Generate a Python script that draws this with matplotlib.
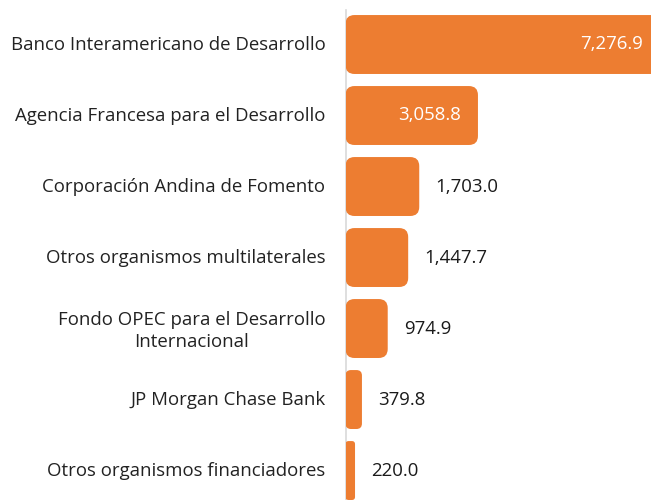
import matplotlib
matplotlib.use("Agg")
import matplotlib.pyplot as plt
import matplotlib.transforms as mtransforms
from matplotlib.patches import FancyBboxPatch

plt.rcParams['font.family'] = ['Open Sans', 'DejaVu Sans']

categories = [
    "Banco Interamericano de Desarrollo",
    "Agencia Francesa para el Desarrollo",
    "Corporación Andina de Fomento",
    "Otros organismos multilaterales",
    "Fondo OPEC para el Desarrollo\nInternacional",
    "JP Morgan Chase Bank",
    "Otros organismos financiadores",
]
values = [7276.9, 3058.8, 1703.0, 1447.7, 974.9, 379.8, 220.0]
value_labels = ["7,276.9", "3,058.8", "1,703.0", "1,447.7", "974.9", "379.8", "220.0"]

W, H = 651, 500
fig = plt.figure(figsize=(W / 100, H / 100), dpi=100)
ax = fig.add_axes([345.5 / W, 0, 305.5 / W, 490 / H])

xmax = 7055
ax.set_xlim(0, xmax)
ax.set_ylim(6.415, -0.486)

color = "#ED7D31"
bar_h = 0.83
px_x = 305.5 / xmax
px_y = 490 / (6.415 + 0.486)
FS = 13.4

for i, v in enumerate(values):
    w_px = v * px_x
    r_px = min(9.0, w_px / 3)
    r_x = r_px / px_x
    aspect = px_x / px_y
    patch = FancyBboxPatch((0, i - bar_h / 2), v, bar_h,
                           boxstyle=f"round,pad=0,rounding_size={r_x}",
                           mutation_aspect=aspect,
                           facecolor=color, edgecolor="none", zorder=2)
    ax.add_patch(patch)

for i, (v, lab) in enumerate(zip(values, value_labels)):
    if i < 2:
        ax.annotate(lab, (v, i), xytext=(-12.5, 0.5), textcoords="offset points",
                    ha="right", va="center", color="white", fontsize=FS, zorder=3,
                    annotation_clip=False)
    else:
        ax.annotate(lab, (v, i), xytext=(11.5, 0), textcoords="offset points",
                    ha="left", va="center", color="#1a1a1a", fontsize=FS, zorder=3)

ax.set_yticks(range(len(categories)))
ax.set_yticklabels(categories, fontsize=FS, color="#222222",
                   multialignment="center", linespacing=1.3)
ax.tick_params(axis="y", length=0, pad=14.5)
shift = mtransforms.ScaledTranslation(0, 2 / 100, fig.dpi_scale_trans)
for t in ax.get_yticklabels():
    t.set_transform(t.get_transform() + shift)
ax.set_xticks([])
for s in ["top", "right", "bottom"]:
    ax.spines[s].set_visible(False)
ax.spines["left"].set_color("#D9D9D9")
ax.spines["left"].set_linewidth(1.2)
ax.spines["left"].set_zorder(1)

fig.savefig("out.png", dpi=100)
